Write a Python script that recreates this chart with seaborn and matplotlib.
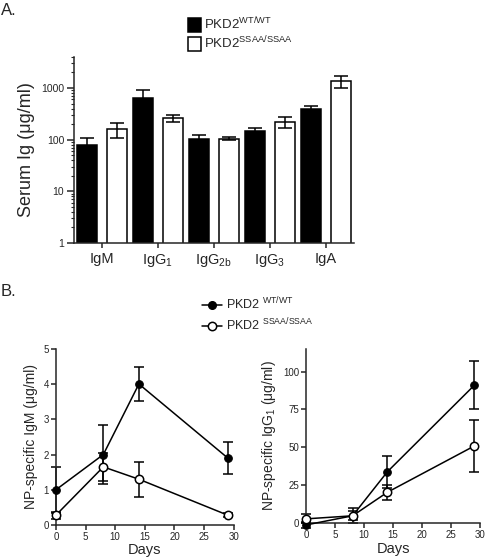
import numpy as np
import pandas as pd
import matplotlib
matplotlib.use('Agg')
import matplotlib.pyplot as plt
import seaborn as sns
from matplotlib.lines import Line2D
from matplotlib.patches import Patch

# --- Panel A: serum Ig (mean +/- SEM) ---
isotypes = ['IgM', 'IgG$_1$', 'IgG$_{\\mathrm{2b}}$', 'IgG$_3$', 'IgA']
wt_serum = [80, 650, 104, 147, 390]
wt_serum_err = [28, 280, 20, 25, 55]
ssaa_serum = [160, 262, 105, 220, 1350]
ssaa_serum_err = [50, 45, 8, 55, 370]

# --- Panel B: NP-specific Ig over time (mean +/- SEM) ---
days = [0, 8, 14, 29]
wt_igm = [1.0, 2.0, 4.0, 1.9]
wt_igm_err = [0.65, 0.83, 0.47, 0.46]
ssaa_igm = [0.28, 1.65, 1.3, 0.28]
ssaa_igm_err = [0.1, 0.4, 0.49, 0.05]
wt_igg1 = [-1, 5, 34, 91]
wt_igg1_err = [2, 5, 10.5, 16]
ssaa_igg1 = [3, 5, 20.5, 51]
ssaa_igg1_err = [3, 3, 5, 17]

genotypes = ['wt', 'ssaa']

# --- Style ---
sns.set_style('ticks')
plt.rcParams['font.family'] = ['Liberation Sans', 'DejaVu Sans']
plt.rcParams['mathtext.fontset'] = 'custom'
plt.rcParams['mathtext.rm'] = 'Liberation Sans'
plt.rcParams['mathtext.it'] = 'Liberation Sans:italic'
plt.rcParams['mathtext.bf'] = 'Liberation Sans:bold'
plt.rcParams['axes.linewidth'] = 1.1
plt.rcParams['xtick.major.width'] = 1.1
plt.rcParams['ytick.major.width'] = 1.1
plt.rcParams['ytick.minor.width'] = 0.8

fig = plt.figure(figsize=(4.86, 5.58), dpi=100)

# --- Panel A ---
serum = pd.DataFrame({
    'isotype': isotypes * 2,
    'level': wt_serum + ssaa_serum,
    'genotype': ['wt'] * 5 + ['ssaa'] * 5,
})
ax = fig.add_axes([0.152, 0.5645, 0.576, 0.3335])
sns.barplot(data=serum, x='isotype', y='level', hue='genotype', hue_order=genotypes,
            palette={'wt': 'black', 'ssaa': 'white'}, edgecolor='black', linewidth=1.1,
            width=1.06, gap=0.33, errorbar=None, legend=False, ax=ax)
ax.set_yscale('log')
for cont, vals, errs in zip(ax.containers, [wt_serum, ssaa_serum], [wt_serum_err, ssaa_serum_err]):
    xs = [p.get_x() + p.get_width() / 2 for p in cont]
    ax.errorbar(xs, vals, yerr=errs, fmt='none', ecolor='black', elinewidth=1.1,
                capsize=5, capthick=1.1)
ax.set_ylim(1, 4000)
ax.set_xlim(-0.5, 4.5)
ax.set_yticks([1, 10, 100, 1000])
ax.set_yticklabels(['1', '10', '100', '1000'])
ax.tick_params(axis='y', which='major', labelsize=7.5, length=5, pad=2)
ax.tick_params(axis='y', which='minor', length=2.5)
ax.tick_params(axis='x', labelsize=10.5, length=3.5, pad=3)
ax.set_xlabel('')
ax.set_ylabel('Serum Ig (μg/ml)', fontsize=13)
sns.despine(ax=ax)

fig.legend(handles=[Patch(facecolor='black', edgecolor='black', linewidth=1.1),
                    Patch(facecolor='white', edgecolor='black', linewidth=1.1)],
           labels=['PKD2$^{\\mathrm{WT/WT}}$', 'PKD2$^{\\mathrm{SSAA/SSAA}}$'],
           loc='upper left', bbox_to_anchor=(188 / 486, 1 - 16 / 558), frameon=False,
           fontsize=9.5, handlelength=0.95, handleheight=1.25, handletextpad=0.3,
           labelspacing=0.15, borderaxespad=0, borderpad=0)

# --- Panel B ---
def time_course(ax, wt, wt_err, ss, ss_err, ylim, yticks, ylabel):
    ax.errorbar(days, wt, yerr=wt_err, fmt='none', ecolor='black', elinewidth=1.1,
                capsize=3.5, capthick=1.1, zorder=2, clip_on=False)
    ax.errorbar(days, ss, yerr=ss_err, fmt='none', ecolor='black', elinewidth=1.1,
                capsize=3.5, capthick=1.1, zorder=2, clip_on=False)
    sns.lineplot(x=days, y=wt, color='black', marker='o', markersize=5.5, linewidth=1.1,
                 markeredgecolor='black', ax=ax, zorder=3, clip_on=False)
    sns.lineplot(x=days, y=ss, color='black', marker='o', markersize=6, linewidth=1.1,
                 markerfacecolor='white', markeredgecolor='black', markeredgewidth=1.1,
                 ax=ax, zorder=4, clip_on=False)
    ax.set_xlim(0, 30)
    ax.set_ylim(*ylim)
    ax.set_xticks(range(0, 31, 5))
    ax.set_yticks(yticks)
    ax.tick_params(labelsize=7, length=3.5, pad=1.5)
    ax.set_xlabel('Days', fontsize=10.5, labelpad=1)
    ax.set_ylabel(ylabel, fontsize=10)
    sns.despine(ax=ax)

ax1 = fig.add_axes([0.115, 0.059, 0.366, 0.316])
time_course(ax1, wt_igm, wt_igm_err, ssaa_igm, ssaa_igm_err, (0, 5), range(0, 6),
            'NP-specific IgM (μg/ml)')
ax2 = fig.add_axes([0.630, 0.062, 0.358, 0.313])
time_course(ax2, wt_igg1, wt_igg1_err, ssaa_igg1, ssaa_igg1_err, (0, 115), [0, 25, 50, 75, 100],
            'NP-specific IgG$_1$ (μg/ml)')

fig.legend(handles=[Line2D([0], [0], color='black', marker='o', ms=5.5, lw=1.1),
                    Line2D([0], [0], color='black', marker='o', ms=6, lw=1.1,
                           markerfacecolor='white', markeredgewidth=1.1)],
           labels=['PKD2 $^{\\mathrm{WT/WT}}$', 'PKD2 $^{\\mathrm{SSAA/SSAA}}$'],
           loc='upper left', bbox_to_anchor=(202 / 486, 1 - 296 / 558), frameon=False,
           fontsize=9, handlelength=1.6, handletextpad=0.3, labelspacing=0.3,
           borderaxespad=0, borderpad=0)

fig.text(0.002, 0.995, 'A.', va='top', ha='left', fontsize=12)
fig.text(0.002, 1 - 284 / 558, 'B.', va='top', ha='left', fontsize=12)

fig.savefig('out.png', dpi=100)
